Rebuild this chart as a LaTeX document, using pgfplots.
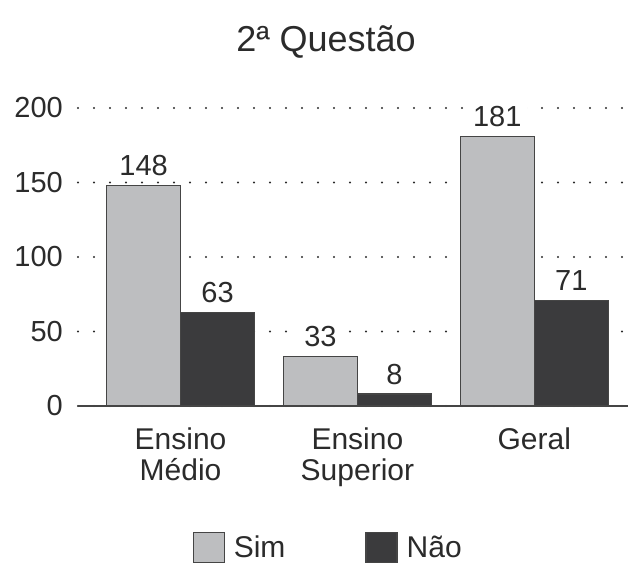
\documentclass[border=0pt]{standalone}
\usepackage{pgfplots}
\pgfplotsset{compat=1.18}
\usepackage{fontspec}
\setmainfont{Liberation Sans}
\definecolor{lightbar}{HTML}{BDBEC0}
\definecolor{darkbar}{HTML}{3B3B3D}
\definecolor{edge}{HTML}{454545}
\definecolor{txt}{HTML}{2B2B2B}
\begin{document}
\begin{tikzpicture}[x=1pt,y=1pt]
\path[use as bounding box] (0,0) rectangle (630,567);
\node[font=\fontsize{36}{40}\selectfont, text=txt] at (326,525) {2ª Questão};
\begin{axis}[
  at={(78pt,161pt)}, anchor=south west,
  width=550pt, height=298pt, scale only axis,
  xmin=-0.58, xmax=2.53, ymin=0, ymax=200,
  ybar, bar width=74pt,
  axis x line=bottom, axis y line=left,
  x axis line style={-, line width=1.4pt, color=edge},
  y axis line style={draw=none},
  major tick length=0pt,
  xtick={0,1,2},
  xticklabels={{Ensino\\Médio},{Ensino\\Superior},{Geral}},
  xticklabel style={align=center, font=\fontsize{30}{31}\selectfont, text=txt, anchor=north, inner sep=0pt, yshift=-22pt},
  ytick={0,50,100,150,200},
  yticklabel style={font=\fontsize{29}{30}\selectfont, text=txt, anchor=east, inner sep=0pt, xshift=-15pt},
  /pgf/number format/assume math mode=true,
  ymajorgrids,
  grid style={dash pattern=on 0pt off 16pt, line cap=round, line width=2.4pt, color=txt},
  nodes near coords,
  nodes near coords style={font=\fontsize{29}{30}\selectfont, text=txt, fill=white, inner xsep=6pt, inner ysep=4pt, anchor=south, yshift=5pt},
  clip=false,
  legend columns=2,
  legend style={draw=none, fill=none, at={(0.453,-0.475)}, anchor=center,
    font=\fontsize{30}{31}\selectfont, text=txt, inner sep=0pt, row sep=0pt,
    nodes={inner sep=0pt},
    /tikz/every odd column/.append style={column sep=9pt},
    /tikz/every even column/.append style={column sep=80pt}},
  legend image code/.code={\draw[#1] (0pt,-15pt) rectangle (31pt,15pt);},
]
\addplot[fill=lightbar, draw=edge, line width=1.2pt, bar shift=-37pt] coordinates {(0,148) (1,33) (2,181)};
\addplot[fill=darkbar, draw=edge, line width=1.2pt, bar shift=37pt] coordinates {(0,63) (1,8) (2,71)};
\legend{Sim, Não}
\end{axis}
\end{tikzpicture}
\end{document}
